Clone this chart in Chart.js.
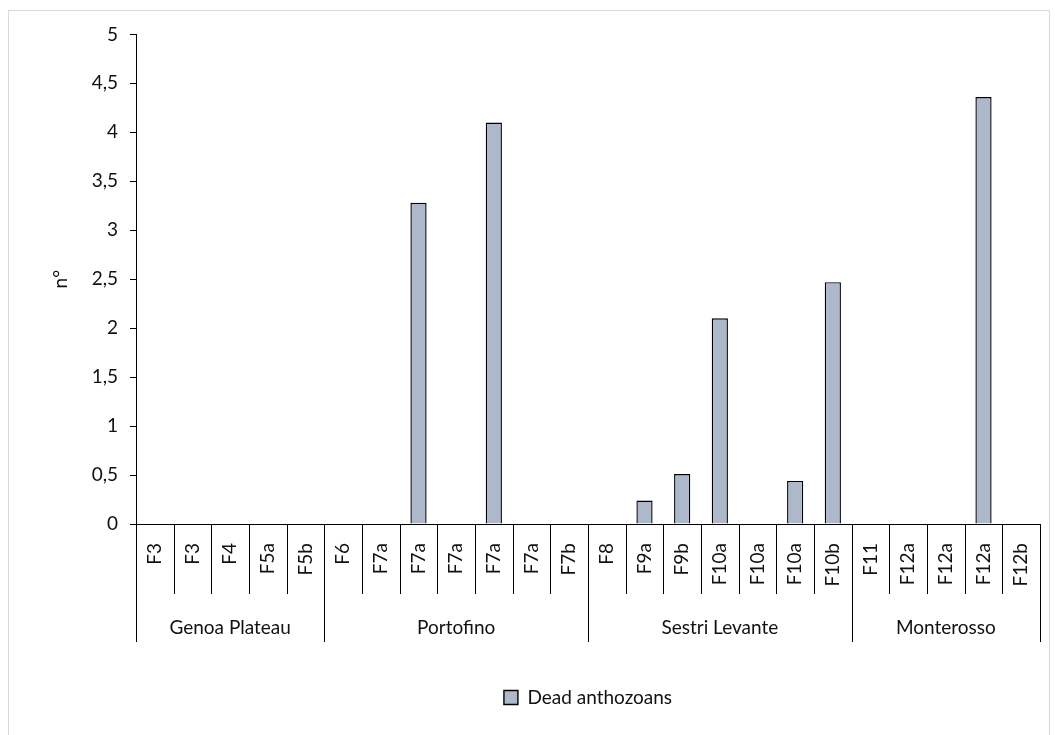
<!DOCTYPE html>
<html lang="en">
<head>
    <meta charset="UTF-8">
    <title>Dead anthozoans</title>
    <script src="https://cdn.jsdelivr.net/npm/chart.js"></script>
    <style>
        body { margin: 0; background: #fff; }
        .marco {
            position: absolute; left: 8px; top: 10px;
            width: 1040px; height: 740px;
            border: 1px solid #d9d9d9; background: #fff;
        }
    </style>
</head>
<body>
    <div class="marco">
        <canvas id="grafico" width="1040" height="740"></canvas>
    </div>

    <script>
        // Datos
        const zonas = ['Genoa Plateau', 'Portofino', 'Sestri Levante', 'Monterosso'];
        const estacionesPorZona = [5, 7, 7, 5];
        const estaciones = ['F3', 'F3', 'F4', 'F5a', 'F5b',
                            'F6', 'F7a', 'F7a', 'F7a', 'F7a', 'F7a', 'F7b',
                            'F8', 'F9a', 'F9b', 'F10a', 'F10a', 'F10a', 'F10b',
                            'F11', 'F12a', 'F12a', 'F12a', 'F12b'];
        const antozoosMuertos = [0, 0, 0, 0, 0,
                                 0, 0, 3.28, 0, 4.1, 0, 0,
                                 0, 0.24, 0.51, 2.1, 0, 0.44, 2.47,
                                 0, 0, 0, 4.36, 0];
        const nombreSerie = 'Dead anthozoans';
        const tituloY = 'n°';

        const fuente = 'Lato, "Open Sans", sans-serif';
        const colorTexto = '#111';
        const tamTexto = 19;

        // eje x de dos niveles (estacion + zona)
        const ejeMultinivel = {
            id: 'ejeMultinivel',
            afterDraw(chart) {
                const ctx = chart.ctx;
                const x = chart.scales.x;
                const y0 = chart.chartArea.bottom;
                const mitad = (x.getPixelForValue(1) - x.getPixelForValue(0)) / 2;
                const bordes = [0];
                let acum = 0;
                estacionesPorZona.forEach(n => { acum += n; bordes.push(acum); });

                ctx.save();
                ctx.strokeStyle = '#000';
                ctx.lineWidth = 1;
                for (let i = 0; i <= estaciones.length; i++) {
                    const px = Math.round(i < estaciones.length ? x.getPixelForValue(i) - mitad : x.getPixelForValue(i - 1) + mitad) + 0.5;
                    const largo = bordes.includes(i) ? 118 : 70;
                    ctx.beginPath();
                    ctx.moveTo(px, y0);
                    ctx.lineTo(px, y0 + largo);
                    ctx.stroke();
                }

                ctx.fillStyle = colorTexto;
                ctx.font = tamTexto + 'px ' + fuente;
                estaciones.forEach((et, i) => {
                    const px = x.getPixelForValue(i);
                    ctx.save();
                    ctx.translate(px, y0 + 19);
                    ctx.rotate(-Math.PI / 2);
                    ctx.textAlign = 'right';
                    ctx.textBaseline = 'middle';
                    ctx.fillText(et, 0, 0);
                    ctx.restore();
                });

                ctx.textAlign = 'center';
                ctx.textBaseline = 'middle';
                zonas.forEach((z, k) => {
                    const a = x.getPixelForValue(bordes[k]) - mitad;
                    const b = x.getPixelForValue(bordes[k + 1] - 1) + mitad;
                    ctx.fillText(z, (a + b) / 2, y0 + 104);
                });
                ctx.restore();
            }
        };

        const ctx = document.getElementById('grafico').getContext('2d');
        const grafico = new Chart(ctx, {
            type: 'bar',
            data: {
                labels: estaciones,
                datasets: [{
                    label: nombreSerie,
                    data: antozoosMuertos,
                    backgroundColor: '#adb9ca',
                    borderColor: '#000',
                    borderWidth: 1.4,
                    borderSkipped: 'bottom',
                    categoryPercentage: 1,
                    barPercentage: 0.43
                }]
            },
            options: {
                responsive: false,
                animation: false,
                layout: { padding: { top: 18, right: 9, bottom: 34, left: 36 } },
                plugins: {
                    legend: {
                        position: 'bottom',
                        fullSize: false,
                        labels: {
                            color: colorTexto,
                            font: { family: fuente, size: tamTexto },
                            boxWidth: 14,
                            boxHeight: 14,
                            padding: 10
                        }
                    },
                    tooltip: { enabled: false }
                },
                scales: {
                    x: {
                        ticks: { display: false },
                        grid: { display: false },
                        border: { color: '#000', width: 1 },
                        afterFit(scale) { scale.height = 154; }
                    },
                    y: {
                        min: 0,
                        max: 5,
                        ticks: {
                            stepSize: 0.5,
                            color: colorTexto,
                            font: { family: fuente, size: tamTexto },
                            padding: 12,
                            callback: v => String(v).replace('.', ',')
                        },
                        grid: {
                            drawOnChartArea: false,
                            color: '#000',
                            tickLength: 6
                        },
                        border: { color: '#000', width: 1 },
                        title: {
                            display: true,
                            text: tituloY,
                            color: colorTexto,
                            font: { family: fuente, size: tamTexto }
                        },
                        afterFit(scale) { scale.width = 91; }
                    }
                }
            },
            plugins: [ejeMultinivel]
        });
    </script>
</body>
</html>
